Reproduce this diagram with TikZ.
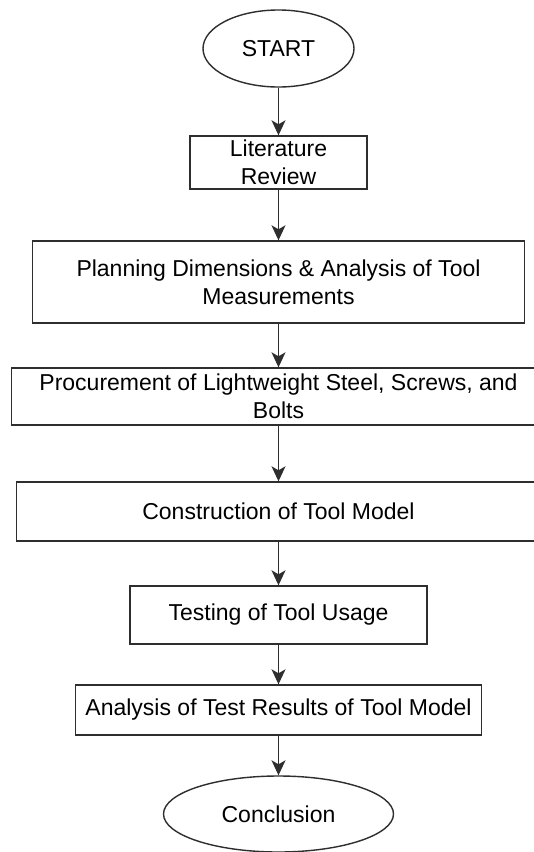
\documentclass[tikz,border=0pt]{standalone}
\usepackage{fontspec}
\setmainfont{Liberation Sans}
\usetikzlibrary{shapes.geometric,arrows.meta}
\definecolor{boxgray}{HTML}{2E2E2E}
\begin{document}
\begin{tikzpicture}[x=1pt,y=-1pt,
  every node/.style={font=\fontsize{23}{27.6}\selectfont, text=black},
  procbox/.style={draw=boxgray, line width=1.4pt, rectangle, inner sep=0pt, align=center},
  term/.style={draw=boxgray, line width=1.4pt, ellipse, inner sep=0pt},
  flow/.style={draw=boxgray, line width=1.4pt, -{Stealth[length=15pt,width=14pt,inset=4pt]}}]
\fill[white] (0,0) rectangle (534,852);
\clip (0,0) rectangle (534,852);
\node[term, minimum width=151pt, minimum height=77pt] (start) at (278.5,48.5) {START};
\node[procbox, minimum width=177pt, minimum height=53pt] (lit) at (278.5,162.5) {Literature\\Review};
\node[procbox, minimum width=492pt, minimum height=82pt] (plan) at (278.5,282) {Planning Dimensions \& Analysis of Tool\\Measurements};
\node[procbox, minimum width=534pt, minimum height=57pt] (proc) at (278.5,396.5) {Procurement of Lightweight Steel, Screws, and\\Bolts};
\node[procbox, minimum width=524pt, minimum height=59pt] (cons) at (278.5,511.5) {Construction of Tool Model};
\node[procbox, minimum width=297pt, minimum height=58pt] (test) at (278.5,615) {Testing of Tool Usage};
\node[procbox, minimum width=406pt, minimum height=50pt] (anal) at (278.5,710) {Analysis of Test Results of Tool Model};
\node[term, minimum width=230pt, minimum height=76pt] (concl) at (278.5,814) {Conclusion};
\draw[flow] (start) -- (lit);
\draw[flow] (lit) -- (plan);
\draw[flow] (plan) -- (proc);
\draw[flow] (proc) -- (cons);
\draw[flow] (cons) -- (test);
\draw[flow] (test) -- (anal);
\draw[flow] (anal) -- (concl);
\end{tikzpicture}
\end{document}
